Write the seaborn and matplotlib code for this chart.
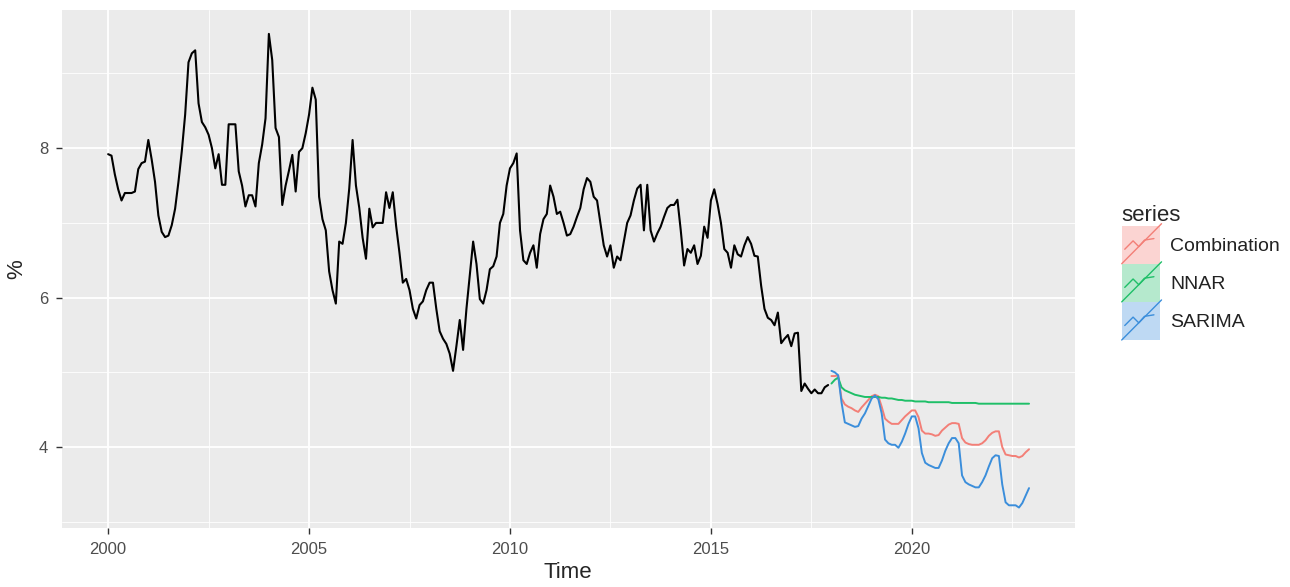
import numpy as np
import pandas as pd
import seaborn as sns
import matplotlib.pyplot as plt
from matplotlib.patches import Rectangle
from matplotlib.lines import Line2D
from matplotlib.legend_handler import HandlerBase

# monthly observed rate, Jan 2000 - Dec 2017
observed = [
    7.92, 7.90, 7.65, 7.45, 7.30, 7.40, 7.40, 7.40, 7.42, 7.72, 7.80, 7.82,
    8.11, 7.85, 7.55, 7.10, 6.88, 6.81, 6.83, 6.97, 7.19, 7.55, 7.96, 8.45,
    9.15, 9.27, 9.31, 8.60, 8.35, 8.28, 8.18, 8.00, 7.73, 7.92, 7.51, 7.51,
    8.32, 8.32, 8.32, 7.69, 7.50, 7.22, 7.37, 7.37, 7.22, 7.80, 8.05, 8.40,
    9.53, 9.18, 8.27, 8.15, 7.24, 7.50, 7.70, 7.91, 7.42, 7.95, 8.00, 8.20,
    8.45, 8.81, 8.65, 7.35, 7.05, 6.90, 6.35, 6.10, 5.92, 6.75, 6.72, 7.00,
    7.46, 8.11, 7.50, 7.20, 6.80, 6.52, 7.19, 6.94, 7.00, 7.00, 7.00, 7.41,
    7.20, 7.41, 6.96, 6.60, 6.20, 6.25, 6.10, 5.85, 5.72, 5.90, 5.95, 6.10,
    6.20, 6.20, 5.85, 5.55, 5.45, 5.38, 5.25, 5.02, 5.35, 5.70, 5.30, 5.85,
    6.30, 6.75, 6.45, 5.98, 5.92, 6.10, 6.38, 6.42, 6.55, 7.00, 7.12, 7.50,
    7.73, 7.80, 7.93, 6.90, 6.50, 6.45, 6.60, 6.70, 6.40, 6.85, 7.05, 7.12,
    7.50, 7.35, 7.12, 7.15, 7.00, 6.83, 6.85, 6.95, 7.08, 7.20, 7.45, 7.60,
    7.55, 7.35, 7.30, 7.00, 6.70, 6.55, 6.70, 6.40, 6.55, 6.50, 6.75, 7.00,
    7.10, 7.30, 7.46, 7.51, 6.90, 7.51, 6.90, 6.75, 6.86, 6.95, 7.08, 7.20,
    7.24, 7.24, 7.31, 6.90, 6.43, 6.65, 6.60, 6.70, 6.45, 6.56, 6.95, 6.80,
    7.30, 7.45, 7.25, 7.00, 6.65, 6.60, 6.40, 6.70, 6.58, 6.55, 6.70, 6.81,
    6.72, 6.56, 6.55, 6.16, 5.85, 5.73, 5.70, 5.63, 5.80, 5.39, 5.45, 5.50,
    5.35, 5.52, 5.53, 4.75, 4.85, 4.78, 4.72, 4.77, 4.72, 4.72, 4.80, 4.83,
]

# forecasts, Jan 2018 - Dec 2022
combination = [
    4.95, 4.95, 4.96, 4.65, 4.57, 4.54, 4.52, 4.49, 4.47, 4.53, 4.58, 4.63,
    4.68, 4.70, 4.68, 4.54, 4.38, 4.34, 4.31, 4.31, 4.31, 4.36, 4.41, 4.45,
    4.49, 4.49, 4.40, 4.22, 4.18, 4.18, 4.17, 4.15, 4.16, 4.22, 4.26, 4.30,
    4.32, 4.32, 4.31, 4.12, 4.06, 4.04, 4.03, 4.03, 4.03, 4.05, 4.09, 4.15,
    4.19, 4.21, 4.21, 4.00, 3.90, 3.89, 3.88, 3.88, 3.86, 3.88, 3.93, 3.97,
]
nnar = [
    4.85, 4.90, 4.93, 4.80, 4.76, 4.74, 4.72, 4.70, 4.69, 4.68, 4.67, 4.67,
    4.67, 4.67, 4.67, 4.66, 4.66, 4.65, 4.65, 4.64, 4.63, 4.63, 4.62, 4.62,
    4.62, 4.61, 4.61, 4.61, 4.61, 4.60, 4.60, 4.60, 4.60, 4.60, 4.60, 4.60,
    4.59, 4.59, 4.59, 4.59, 4.59, 4.59, 4.59, 4.59, 4.58, 4.58, 4.58, 4.58,
    4.58, 4.58, 4.58, 4.58, 4.58, 4.58, 4.58, 4.58, 4.58, 4.58, 4.58, 4.58,
]
sarima = [
    5.02, 5.00, 4.96, 4.60, 4.33, 4.31, 4.29, 4.27, 4.28, 4.38, 4.45, 4.55,
    4.65, 4.69, 4.64, 4.45, 4.10, 4.05, 4.03, 4.03, 3.99, 4.07, 4.18, 4.31,
    4.41, 4.41, 4.25, 3.92, 3.79, 3.76, 3.74, 3.72, 3.72, 3.82, 3.95, 4.05,
    4.12, 4.12, 4.05, 3.62, 3.53, 3.50, 3.48, 3.46, 3.46, 3.53, 3.62, 3.74,
    3.85, 3.89, 3.88, 3.50, 3.26, 3.22, 3.22, 3.22, 3.19, 3.25, 3.35, 3.45,
]

series_names = ['Combination', 'NNAR', 'SARIMA']
series_colors = {'Combination': '#F37F77', 'NNAR': '#1FBF68', 'SARIMA': '#3B8EDB'}

obs_df = pd.DataFrame({'time': 2000 + np.arange(len(observed)) / 12, 'value': observed})
fc_time = 2018 + np.arange(len(sarima)) / 12
fc_df = pd.concat([
    pd.DataFrame({'time': fc_time, 'value': vals, 'series': name})
    for name, vals in zip(series_names, [combination, nnar, sarima])
])

sns.set_style("darkgrid", {"axes.facecolor": "#EBEBEB", "grid.color": "white"})
plt.rcParams['font.family'] = ['Liberation Sans', 'DejaVu Sans']


class KeyHandler(HandlerBase):
    # ggplot-style key: tinted square, diagonal line and a small zigzag
    def create_artists(self, legend, orig_handle, xdescent, ydescent, width, height, fontsize, trans):
        c = orig_handle.get_color()
        x0, y0 = -xdescent, -ydescent
        rect = Rectangle((x0, y0), width, height, facecolor=c, alpha=0.33,
                         edgecolor='none', transform=trans)
        diag = Line2D([x0, x0 + width * 1.05], [y0, y0 + height * 1.05],
                      color=c, lw=1.0, transform=trans)
        zx = np.array([0.08, 0.3, 0.45, 0.6, 0.85])
        zy = np.array([0.38, 0.6, 0.45, 0.62, 0.66])
        zig = Line2D(x0 + width * zx, y0 + height * zy, color=c, lw=1.0, transform=trans)
        return [rect, diag, zig]


fig = plt.figure(figsize=(12.9, 5.87), dpi=100)
ax = fig.add_axes([0.048, 0.101, 0.785, 0.882])

sns.lineplot(data=obs_df, x='time', y='value', color='black', lw=1.5,
             estimator=None, ax=ax)
sns.lineplot(data=fc_df, x='time', y='value', hue='series', palette=series_colors,
             hue_order=series_names, lw=1.4, estimator=None, ax=ax, legend=False)

ax.set_xlim(1998.85, 2024.05)
ax.set_ylim(2.92, 9.85)
ax.set_xticks([2000, 2005, 2010, 2015, 2020])
ax.set_xticks([2002.5, 2007.5, 2012.5, 2017.5, 2022.5], minor=True)
ax.set_yticks([4, 6, 8])
ax.set_yticks([3, 5, 7, 9], minor=True)
ax.grid(which='major', color='white', lw=1.3)
ax.grid(which='minor', color='white', lw=0.6)
ax.tick_params(which='major', length=4, width=1, color='#333333',
               labelsize=12, labelcolor='#4D4D4D', pad=6, bottom=True, left=True)
ax.tick_params(which='minor', length=0)
for s in ax.spines.values():
    s.set_visible(False)

ax.set_xlabel('Time', fontsize=16, labelpad=4)
ax.set_ylabel('%', fontsize=16, labelpad=8)

handles = [Line2D([], [], color=series_colors[n]) for n in series_names]
leg = fig.legend(handles, series_names, title='series', loc='upper left',
                 bbox_to_anchor=(0.862, 0.668), frameon=False, fontsize=14,
                 title_fontsize=16, handlelength=1.95, handleheight=2.64,
                 handletextpad=0.55, labelspacing=0.0, borderpad=0,
                 alignment='left', handler_map={Line2D: KeyHandler()})
for t in leg.get_texts():
    t.set_color('#222222')

fig.savefig('out.png', dpi=100)
